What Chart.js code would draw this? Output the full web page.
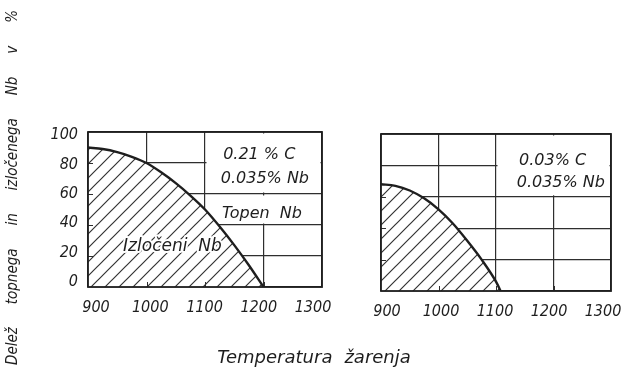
<!DOCTYPE html>
<html>
<head>
<meta charset="utf-8">
<script src="https://cdn.jsdelivr.net/npm/chart.js@4.4.1/dist/chart.umd.min.js"></script>
<style>
  html, body { margin: 0; padding: 0; background: #fff; }
  #wrap { position: relative; width: 622px; height: 370px; overflow: hidden; background: #fff; }
  canvas { position: absolute; top: 0; }
  #left { left: 0; }
  #right { left: 340px; }
</style>
</head>
<body>
<div id="wrap">
  <canvas id="left" width="622" height="370"></canvas>
  <canvas id="right" width="282" height="370"></canvas>
</div>
<script>
// Annealing temperature (°C) and share of precipitated Nb (%)
const tempsHighC = [900, 925, 950, 975, 1000, 1025, 1050, 1075, 1100, 1125, 1150, 1175, 1200];
const precipHighC = [90, 89, 87, 84, 80, 74, 67, 59, 50, 39, 27, 14, 0];

const tempsLowC = [900, 925, 950, 975, 1000, 1025, 1050, 1075, 1100, 1108];
const precipLowC = [68, 67, 64, 59, 52, 43, 32, 20, 6, 0];

const xTicks = [900, 1000, 1100, 1200, 1300];
const yTicks = [0, 20, 40, 60, 80, 100];

const INK = '#1e1e1e';
const GRID = '#2e2e2e';
const COND = "'DejaVu Sans Condensed', 'DejaVu Sans', sans-serif";
const WIDE = "'DejaVu Sans', sans-serif";

// white-backed diagonal hatching for the precipitated region
function makeHatch() {
  const s = 14;
  const c = document.createElement('canvas');
  c.width = s; c.height = s;
  const g = c.getContext('2d');
  g.fillStyle = '#fff';
  g.fillRect(0, 0, s, s);
  g.strokeStyle = '#333';
  g.lineWidth = 1.2;
  g.beginPath();
  g.moveTo(0, s); g.lineTo(s, 0);
  g.moveTo(-1, 1); g.lineTo(1, -1);
  g.moveTo(s - 1, s + 1); g.lineTo(s + 1, s - 1);
  g.stroke();
  return g.createPattern(c, 'repeat');
}
const hatch = makeHatch();

function drawLabel(ctx, text, x, y, size) {
  ctx.font = `italic ${size}px ${WIDE}`;
  ctx.textAlign = 'left';
  ctx.textBaseline = 'middle';
  ctx.lineJoin = 'round';
  ctx.strokeStyle = '#fff';
  ctx.lineWidth = 4;
  ctx.strokeText(text, x, y);
  ctx.fillStyle = INK;
  ctx.fillText(text, x, y);
}

const sheet = {
  id: 'sheet',
  beforeDatasetsDraw(chart, args, o) {
    const { ctx } = chart;
    const sx = chart.scales.x, sy = chart.scales.y;
    ctx.save();
    ctx.fillStyle = '#fff';
    for (const r of o.clear || []) {
      const x0 = sx.getPixelForValue(r[0]), x1 = sx.getPixelForValue(r[1]);
      const y0 = sy.getPixelForValue(r[3]), y1 = sy.getPixelForValue(r[2]);
      ctx.fillRect(x0 + 1.5, y0 + 1.5, x1 - x0 - 3, y1 - y0 - 3);
    }
    ctx.restore();
  },
  afterDatasetsDraw(chart, args, o) {
    const { ctx, chartArea: a } = chart;
    const sx = chart.scales.x, sy = chart.scales.y;
    ctx.save();
    // short inner tick marks along the left and bottom edges
    ctx.strokeStyle = GRID;
    ctx.lineWidth = 1;
    ctx.beginPath();
    for (const v of yTicks.slice(1, -1)) {
      const p = Math.round(sy.getPixelForValue(v)) + 0.5;
      ctx.moveTo(a.left, p); ctx.lineTo(a.left + 5, p);
    }
    for (const v of xTicks.slice(1, -1)) {
      const p = Math.round(sx.getPixelForValue(v)) + 0.5;
      ctx.moveTo(p, a.bottom); ctx.lineTo(p, a.bottom - 5);
    }
    ctx.stroke();
    // frame
    ctx.strokeStyle = INK;
    ctx.lineWidth = 1.8;
    ctx.strokeRect(a.left, a.top, a.right - a.left, a.bottom - a.top);
    // text inside the plot
    for (const t of o.notes || []) {
      drawLabel(ctx, t.text, sx.getPixelForValue(t.x), sy.getPixelForValue(t.y), t.size);
    }
    // axis titles
    if (o.titles) {
      ctx.fillStyle = INK;
      ctx.textBaseline = 'middle';
      ctx.textAlign = 'left';
      ctx.font = `italic 15px ${COND}`;
      const words = 'Delež topnega in izločenega Nb v %'.split(' ');
      const widths = words.map(w => ctx.measureText(w).width);
      const span = 355;
      const gap = (span - widths.reduce((s, w) => s + w, 0)) / (words.length - 1);
      ctx.save();
      ctx.translate(13, 365);
      ctx.rotate(-Math.PI / 2);
      let px = 0;
      words.forEach((w, i) => { ctx.fillText(w, px, 0); px += widths[i] + gap; });
      ctx.restore();

      ctx.font = `italic 18px ${WIDE}`;
      ctx.textBaseline = 'alphabetic';
      const xw = ['Temperatura', 'žarenja'];
      const xwW = xw.map(w => ctx.measureText(w).width);
      const xgap = 12;
      const sx0 = 314 - (xwW[0] + xwW[1] + xgap) / 2;
      ctx.fillText(xw[0], sx0, 363);
      ctx.fillText(xw[1], sx0 + xwW[0] + xgap, 363);
    }
    ctx.restore();
  }
};

function panel(canvas, temps, values, o) {
  const tickFont = { family: COND, size: 16, style: 'italic' };
  const scales = {
    x: {
      type: 'linear', position: 'bottom', min: 900, max: 1300,
      ticks: { display: false, stepSize: 100 },
      grid: { color: GRID, lineWidth: 1.2, drawTicks: false },
      border: { display: false },
      afterFit: s => { s.height = 0; }
    },
    xt: {
      type: 'linear', position: 'bottom', min: o.xt[0], max: o.xt[1],
      grid: { display: false, drawTicks: false }, border: { display: false },
      afterBuildTicks: s => { s.ticks = xTicks.map(v => ({ value: v })); },
      ticks: { font: tickFont, color: INK, padding: 11, maxRotation: 0, autoSkip: false, callback: v => String(v) },
      afterFit: s => { s.height = 25; s.paddingLeft = 0; s.paddingRight = 0; }
    },
    y: {
      type: 'linear', position: 'left', min: 0, max: 100,
      ticks: { display: false, stepSize: 20 },
      grid: { color: GRID, lineWidth: 1.2, drawTicks: false },
      border: { display: false },
      afterFit: s => { s.width = 0; s.paddingTop = 0; s.paddingBottom = 0; }
    }
  };
  if (o.yt) {
    scales.yt = {
      type: 'linear', position: 'left', min: o.yt[0], max: o.yt[1],
      grid: { display: false, drawTicks: false }, border: { display: false },
      afterBuildTicks: s => { s.ticks = yTicks.map(v => ({ value: v })); },
      ticks: { font: tickFont, color: INK, padding: 10, autoSkip: false, callback: v => String(v) },
      afterFit: s => { s.width = 50; s.paddingTop = 0; s.paddingBottom = 0; }
    };
  }
  return new Chart(canvas, {
    type: 'line',
    data: {
      datasets: [{
        data: temps.map((t, i) => ({ x: t, y: values[i] })),
        xAxisID: 'x', yAxisID: 'y',
        borderColor: INK, borderWidth: 2.4,
        pointRadius: 0, cubicInterpolationMode: 'monotone',
        fill: 'origin', backgroundColor: hatch
      }]
    },
    options: {
      responsive: false, animation: false, devicePixelRatio: 1,
      layout: { padding: o.padding },
      plugins: { legend: { display: false }, tooltip: { enabled: false }, sheet: o.sheet },
      scales
    },
    plugins: [sheet]
  });
}

panel(document.getElementById('left'), tempsHighC, precipHighC, {
  padding: { left: 38, right: 300, top: 132, bottom: 58 },
  xt: [885.3, 1316.6],
  yt: [-3.4, 102],
  sheet: {
    titles: true,
    clear: [[1100, 1300, 60, 100], [1190, 1210, 40, 60]],
    notes: [
      { text: '0.21 % C', x: 1131, y: 85, size: 16 },
      { text: '0.035% Nb', x: 1127, y: 70, size: 16 },
      { text: 'Topen  Nb', x: 1129, y: 47, size: 16 },
      { text: 'Izločeni  Nb', x: 960, y: 26, size: 17 }
    ]
  }
});

panel(document.getElementById('right'), tempsLowC, precipLowC, {
  padding: { left: 41, right: 11, top: 134, bottom: 54 },
  xt: [888.9, 1314.8],
  yt: null,
  sheet: {
    titles: false,
    clear: [[1100, 1300, 60, 100]],
    notes: [
      { text: '0.03% C', x: 1140, y: 83, size: 16 },
      { text: '0.035% Nb', x: 1136, y: 69, size: 16 }
    ]
  }
});
</script>
</body>
</html>
